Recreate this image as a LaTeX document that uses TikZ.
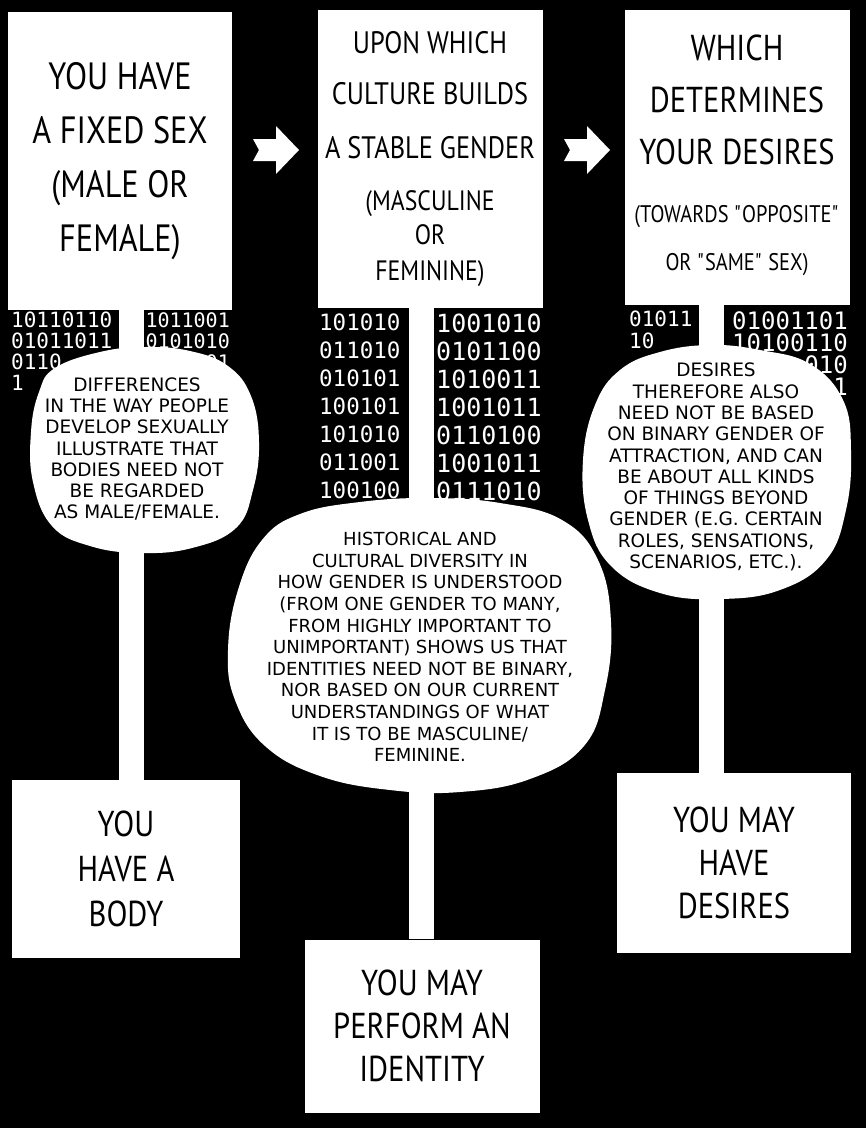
\documentclass[tikz,border=0pt]{standalone}
\usepackage{fontspec}
\setmainfont{PT Sans}[FakeStretch=0.85]
\newfontfamily\notefont{DejaVu Sans}
\newfontfamily\bitfont{DejaVu Sans Mono}
\usetikzlibrary{positioning,calc}
\newcommand\sm[1]{\fontsize{#1}{#1}\selectfont}

\begin{document}
\begin{tikzpicture}[
    x=1pt, y=-1pt,
    panel/.style={fill=white, text=black, inner sep=0pt, align=center},
    stem/.style={white, line width=25pt},
    bits/.style={text=white, anchor=north west, inner sep=0pt, align=left},
    rbits/.style={text=white, anchor=north east, inner sep=0pt, align=right},
    blob/.style={fill=white},
    note/.style={text=black, align=center, inner sep=0pt, font=\notefont\fontsize{18.5}{21.3}\selectfont},
  ]
  \useasboundingbox (0,0) rectangle (866,1128);
  \fill[black] (0,0) rectangle (866,1128);

  % --- top row ---
  \node[panel, minimum width=224pt, minimum height=298pt, font=\fontsize{38}{54}\selectfont]
    (sex) at (120,161) {YOU HAVE\\A FIXED SEX\\(MALE OR\\FEMALE)};
  \node[panel, minimum width=225pt, minimum height=298pt, font=\fontsize{31}{34}\selectfont]
    (gender) at (430,159) {UPON WHICH\\[17pt]CULTURE BUILDS\\[20pt]A STABLE GENDER\\[18pt]
      \sm{28}(MASCULINE\\\sm{28}OR\\[2pt]\sm{28}FEMININE)};
  \node[panel, minimum width=225pt, minimum height=295pt, font=\fontsize{36}{52}\selectfont]
    (desire) at (737,157) {WHICH\\DETERMINES\\YOUR DESIRES\\[6pt]
      \sm{24}(TOWARDS \textquotedbl OPPOSITE\textquotedbl\\[-4pt]
      \sm{24}OR \textquotedbl SAME\textquotedbl\ SEX)\rule[-8pt]{0pt}{0pt}};

  % --- arrows between the top boxes ---
  \foreach \ax in {253,564}{
    \fill[white] (\ax,139) -- (\ax+23,139) -- (\ax+23,126) -- (\ax+46,150)
      -- (\ax+23,174) -- (\ax+23,161) -- (\ax,161) -- (\ax+6,150) -- cycle;
  }

  % --- bottom row ---
  \node[panel, minimum width=228pt, minimum height=178pt, font=\fontsize{36}{45}\selectfont]
    (body) at (126,869) {YOU\\HAVE A\\BODY};
  \node[panel, minimum width=235pt, minimum height=173pt, font=\fontsize{36}{43}\selectfont]
    (identity) at (422,1026) {YOU MAY\\PERFORM AN\\IDENTITY};
  \node[panel, minimum width=234pt, minimum height=180pt, font=\fontsize{36}{43}\selectfont]
    (desires) at (734,863) {YOU MAY\\HAVE\\DESIRES};

  % --- stems ---
  \draw[stem] ([xshift=11pt]sex.south) -- ([xshift=11pt]sex.south |- body.north);
  \draw[stem] ([xshift=-9pt]gender.south) -- ([xshift=-9pt]gender.south |- identity.north);
  \draw[stem] ([xshift=-26pt]desire.south) -- ([xshift=-26pt]desire.south |- desires.north);

  % --- binary columns (the clouds hide the rest) ---
  \node[bits, font=\bitfont\fontsize{21}{21}\selectfont] (bitsA) at (11,312)
    {10110110\\01011011\\0110\\1};
  \node[rbits, font=\bitfont\fontsize{20}{21}\selectfont] (bitsB) at (230,312)
    {1011001\\0101010\\01\\1};
  \node[bits, font=\bitfont\fontsize{22.5}{28}\selectfont] (bitsC) at (319,314)
    {101010\\011010\\010101\\100101\\101010\\011001\\100100};
  \node[bits, font=\bitfont\fontsize{25}{28}\selectfont] (bitsD) at (436,314)
    {1001010\\0101100\\1010011\\1001011\\0110100\\1001011\\0111010};
  \node[bits, font=\bitfont\fontsize{21}{22}\selectfont] (bitsE) at (629,311)
    {01011\\10};
  \node[rbits, font=\bitfont\fontsize{24}{22}\selectfont] (bitsF) at (848,311)
    {01001101\\10100110\\010\\1};

  % --- clouds ---
  \fill[blob] plot[smooth cycle, tension=0.7] coordinates {
    (55,368) (100,352) (145,347) (190,351) (228,366) (251,396) (259,442) (253,490)
    (236,528) (192,548) (140,553) (90,546) (52,526) (33,482) (31,432) (39,392)};
  \node[note] (bodynote) at (137,449)
    {DIFFERENCES\\IN THE WAY PEOPLE\\DEVELOP SEXUALLY\\ILLUSTRATE THAT\\BODIES NEED NOT\\BE REGARDED\\AS MALE/FEMALE.};

  \fill[blob] plot[smooth cycle, tension=0.7] coordinates {
    (300,514) (360,502) (430,498) (500,503) (562,520) (598,560) (611,622) (605,690)
    (584,746) (530,779) (460,792) (390,790) (320,776) (265,746) (235,700) (228,650)
    (238,590) (262,540)};
  \node[note, font=\notefont\fontsize{18}{21.6}\selectfont] (gendernote) at (420,647)
    {HISTORICAL AND\\CULTURAL DIVERSITY IN\\HOW GENDER IS UNDERSTOOD\\(FROM ONE GENDER TO MANY,\\
     FROM HIGHLY IMPORTANT TO\\UNIMPORTANT) SHOWS US THAT\\IDENTITIES NEED NOT BE BINARY,\\
     NOR BASED ON OUR CURRENT\\UNDERSTANDINGS OF WHAT\\IT IS TO BE MASCULINE/\\FEMININE.};

  \fill[blob] plot[smooth cycle, tension=0.7] coordinates {
    (620,370) (660,352) (710,345) (760,350) (810,364) (843,400) (851,450) (846,510)
    (826,560) (780,590) (720,599) (660,593) (611,566) (588,520) (583,460) (595,405)};
  \node[note] (desirenote) at (716,467)
    {DESIRES\\THEREFORE ALSO\\NEED NOT BE BASED\\ON BINARY GENDER OF\\ATTRACTION, AND CAN\\
     BE ABOUT ALL KINDS\\OF THINGS BEYOND\\GENDER (E.G. CERTAIN\\ROLES, SENSATIONS,\\SCENARIOS, ETC.).};
\end{tikzpicture}
\end{document}
